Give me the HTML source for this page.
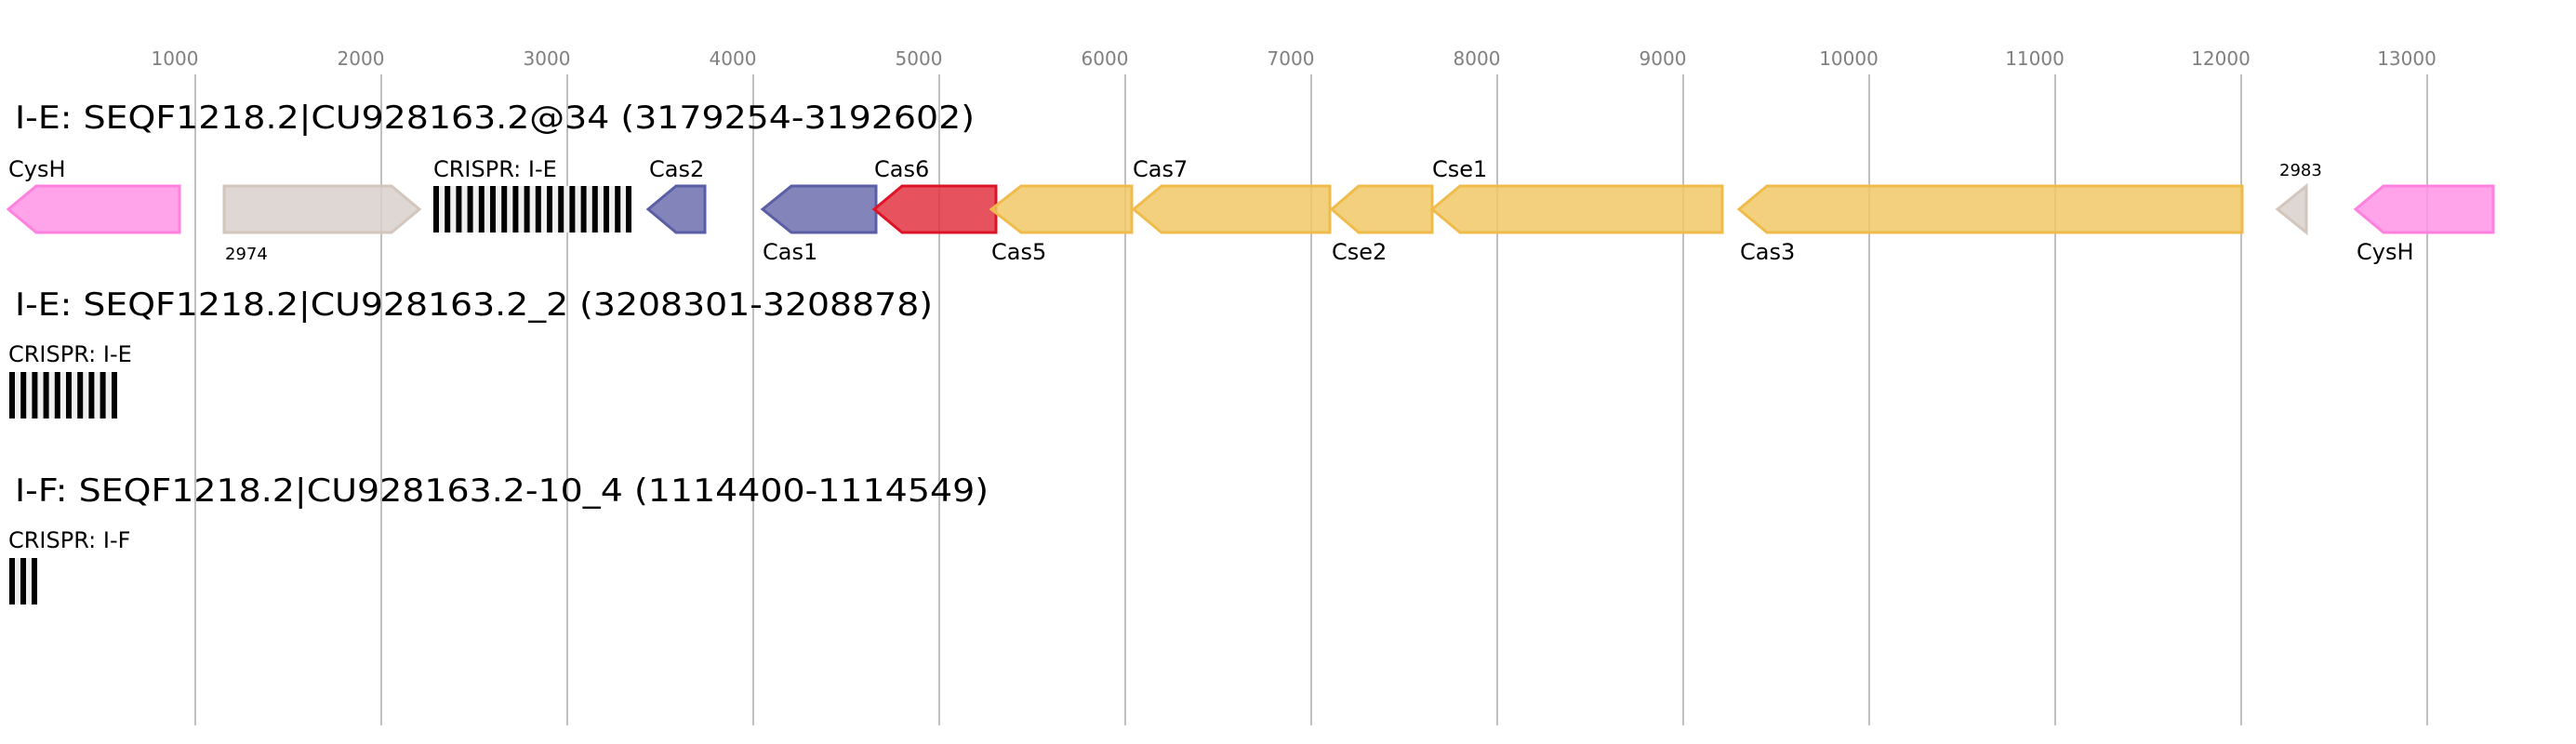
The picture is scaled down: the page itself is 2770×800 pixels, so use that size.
<!DOCTYPE html>
<html><head><meta charset="utf-8"><style>html,body{margin:0;padding:0;background:#fff}svg{display:block}text{font-family:"DejaVu Sans","Liberation Sans",sans-serif}</style></head>
<body>
<svg width="2770" height="800" viewBox="0 0 2770 800" xmlns="http://www.w3.org/2000/svg">
<rect width="2770" height="800" fill="#fff"/>
<g stroke="#c0c0c0" stroke-width="2">
<line x1="210" y1="80" x2="210" y2="780"/><line x1="410" y1="80" x2="410" y2="780"/><line x1="610" y1="80" x2="610" y2="780"/><line x1="810" y1="80" x2="810" y2="780"/><line x1="1010" y1="80" x2="1010" y2="780"/><line x1="1210" y1="80" x2="1210" y2="780"/><line x1="1410" y1="80" x2="1410" y2="780"/><line x1="1610" y1="80" x2="1610" y2="780"/><line x1="1810" y1="80" x2="1810" y2="780"/><line x1="2010" y1="80" x2="2010" y2="780"/><line x1="2210" y1="80" x2="2210" y2="780"/><line x1="2410" y1="80" x2="2410" y2="780"/><line x1="2610" y1="80" x2="2610" y2="780"/>
</g>
<g fill="#808080" font-size="20" text-anchor="middle">
<text x="188" y="70">1000</text><text x="388" y="70">2000</text><text x="588" y="70">3000</text><text x="788" y="70">4000</text><text x="988" y="70">5000</text><text x="1188" y="70">6000</text><text x="1388" y="70">7000</text><text x="1588" y="70">8000</text><text x="1788" y="70">9000</text><text x="1988" y="70">10000</text><text x="2188" y="70">11000</text><text x="2388" y="70">12000</text><text x="2588" y="70">13000</text>
</g>
<g font-size="34" fill="#000">
<text x="16" y="138" textLength="1032" lengthAdjust="spacingAndGlyphs">I-E: SEQF1218.2|CU928163.2@34 (3179254-3192602)</text>
<text x="16" y="339" textLength="987" lengthAdjust="spacingAndGlyphs">I-E: SEQF1218.2|CU928163.2_2 (3208301-3208878)</text>
<text x="16" y="539" textLength="1047" lengthAdjust="spacingAndGlyphs">I-F: SEQF1218.2|CU928163.2-10_4 (1114400-1114549)</text>
</g>
<g stroke-width="3" fill-opacity="0.85">
<polygon points="9,225 39,200 193,200 193,250 39,250" fill="#ff94e8" stroke="#ff80df"/>
<polygon points="241,200 421,200 451,225 421,250 241,250" fill="#d9d0cb" stroke="#d2c6bd"/>
<polygon points="697,225 727,200 758,200 758,250 727,250" fill="#6d6fad" stroke="#5a5ea5"/>
<polygon points="820,225 851,200 942,200 942,250 851,250" fill="#6d6fad" stroke="#5a5ea5"/>
<polygon points="940,225 970,200 1071,200 1071,250 970,250" fill="#e23442" stroke="#dd1426"/>
<polygon points="1066,225 1098,200 1217,200 1217,250 1098,250" fill="#f0c867" stroke="#efbc4b"/>
<polygon points="1219,225 1249,200 1430,200 1430,250 1249,250" fill="#f0c867" stroke="#efbc4b"/>
<polygon points="1432,225 1461,200 1540,200 1540,250 1461,250" fill="#f0c867" stroke="#efbc4b"/>
<polygon points="1540,225 1570,200 1852,200 1852,250 1570,250" fill="#f0c867" stroke="#efbc4b"/>
<polygon points="1870,225 1900,200 2411,200 2411,250 1900,250" fill="#f0c867" stroke="#efbc4b"/>
<polygon points="2449,225 2480,200 2480,250" fill="#d9d0cb" stroke="#d2c6bd"/>
<polygon points="2533,225 2563,200 2681,200 2681,250 2563,250" fill="#ff94e8" stroke="#ff80df"/>
</g>
<rect x="466" y="200" width="213" height="50" fill="#f0f0f0"/>
<g fill="#000">
<rect x="466" y="200" width="6" height="50"/><rect x="478.2" y="200" width="6" height="50"/><rect x="490.4" y="200" width="6" height="50"/><rect x="502.6" y="200" width="6" height="50"/><rect x="514.8" y="200" width="6" height="50"/><rect x="527" y="200" width="6" height="50"/><rect x="539.2" y="200" width="6" height="50"/><rect x="551.4" y="200" width="6" height="50"/><rect x="563.6" y="200" width="6" height="50"/><rect x="575.8" y="200" width="6" height="50"/><rect x="588" y="200" width="6" height="50"/><rect x="600.2" y="200" width="6" height="50"/><rect x="612.4" y="200" width="6" height="50"/><rect x="624.6" y="200" width="6" height="50"/><rect x="636.8" y="200" width="6" height="50"/><rect x="649" y="200" width="6" height="50"/><rect x="661.2" y="200" width="6" height="50"/><rect x="673" y="200" width="6" height="50"/>
</g>
<rect x="10" y="400" width="116" height="50" fill="#f0f0f0"/>
<g fill="#000">
<rect x="10" y="400" width="6" height="50"/><rect x="22.2" y="400" width="6" height="50"/><rect x="34.4" y="400" width="6" height="50"/><rect x="46.6" y="400" width="6" height="50"/><rect x="58.8" y="400" width="6" height="50"/><rect x="71" y="400" width="6" height="50"/><rect x="83.2" y="400" width="6" height="50"/><rect x="95.4" y="400" width="6" height="50"/><rect x="107.6" y="400" width="6" height="50"/><rect x="120" y="400" width="6" height="50"/>
</g>
<rect x="10" y="600" width="30" height="50" fill="#f0f0f0"/>
<g fill="#000">
<rect x="10" y="600" width="6" height="50"/><rect x="22" y="600" width="6" height="50"/><rect x="34" y="600" width="6" height="50"/>
</g>
<g font-size="24" fill="#000">
<text x="9" y="190">CysH</text>
<text x="466" y="190">CRISPR: I-E</text>
<text x="698" y="190">Cas2</text>
<text x="940" y="190">Cas6</text>
<text x="1218" y="190">Cas7</text>
<text x="1540" y="190">Cse1</text>
<text x="820" y="279">Cas1</text>
<text x="1066" y="279">Cas5</text>
<text x="1432" y="279">Cse2</text>
<text x="1871" y="279">Cas3</text>
<text x="2534" y="279">CysH</text>
<text x="9" y="389">CRISPR: I-E</text>
<text x="9" y="589">CRISPR: I-F</text>
</g>
<g font-size="18" fill="#000">
<text x="242" y="279">2974</text>
<text x="2451" y="189">2983</text>
</g>
</svg>
</body></html>
